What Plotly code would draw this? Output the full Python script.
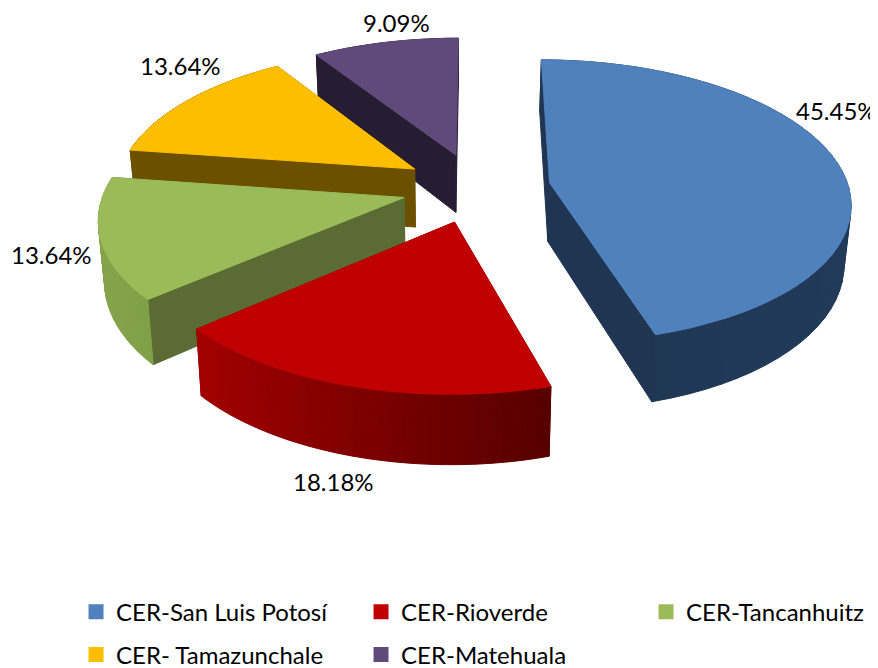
import math
import plotly.graph_objects as go

categories = ["CER-San Luis Potosí", "CER-Rioverde", "CER-Tancanhuitz", "CER- Tamazunchale", "CER-Matehuala"]
percent_values = [45.45, 18.18, 13.64, 13.64, 9.09]

top_colors = ["#4F81BD", "#C00000", "#9BBB59", "#FDBE00", "#604A7B"]
cut_colors = ["#1F3552", "#8A0000", "#5A6B33", "#6B5000", "#261D33"]
arc_from = ["#1F3552", "#A30000", "#86A44C", "#6B5000", "#261D33"]
arc_to = ["#223A5A", "#560000", "#80A048", "#6B5000", "#261D33"]
legend_rows = ["legend", "legend", "legend", "legend2", "legend2"]

CX, CY, R, RT, K, DEPTH, EXPLODE, ROT = 476.2, 187.6, 299, 140, 0.13, 59, 0.249, 0.05
TAPER, TAPER_X = 0.018, 450
LABEL_XY = [(836, 110), (333, 481), (51, 254), (180, 65), (396, 22)]
FONT = "Lato"
PAGE_MARGIN = 8  # the page body offsets the plot by this many pixels


def proj(X, Y, Z):
    s = 1 / (1 - K * Y)
    x = CX + R * X * s
    x = TAPER_X + (x - TAPER_X) * (1 - TAPER * Z)
    return x, CY + (RT * Y + DEPTH * Z) * s


def mix(a, b, t):
    ca = [int(a[i:i + 2], 16) for i in (1, 3, 5)]
    cb = [int(b[i:i + 2], 16) for i in (1, 3, 5)]
    return "rgb(%d,%d,%d)" % tuple(round(p + (q - p) * t) for p, q in zip(ca, cb))


fig = go.Figure()


def poly(pts, color):
    xs = [p[0] for p in pts] + [pts[0][0]]
    ys = [p[1] for p in pts] + [pts[0][1]]
    fig.add_trace(go.Scatter(x=xs, y=ys, mode="lines", fill="toself", fillcolor=color,
                             line=dict(color=color, width=1), showlegend=False, hoverinfo="skip"))


total = sum(percent_values)
spans = []
a = ROT
for v in percent_values:
    b = a + 360 * v / total
    spans.append((a, b))
    a = b

for i in [4, 3, 2, 0, 1]:
    a0, a1 = spans[i]
    m = math.radians((a0 + a1) / 2)
    ox, oy = EXPLODE * math.sin(m), -EXPLODE * math.cos(m)
    n = 48
    rim = []
    for j in range(n + 1):
        t = math.radians(a0 + (a1 - a0) * j / n)
        rim.append((ox + math.sin(t), oy - math.cos(t)))
    apex = (ox, oy)
    pieces = []
    for edge in (rim[0], rim[-1]):
        q = [proj(*apex, 0), proj(*edge, 0), proj(*edge, 1), proj(*apex, 1)]
        pieces.append(((apex[1] + edge[1]) / 2, q, cut_colors[i]))
    xl, xr = min(r[0] for r in rim), max(r[0] for r in rim)
    for j in range(n):
        p0, p1 = rim[j], rim[j + 1]
        q = [proj(*p0, 0), proj(*p1, 0), proj(*p1, 1), proj(*p0, 1)]
        xm = (p0[0] + p1[0]) / 2
        pieces.append(((p0[1] + p1[1]) / 2, q, mix(arc_from[i], arc_to[i], (xm - xl) / (xr - xl))))
    for _, q, c in sorted(pieces, key=lambda z: z[0]):
        poly(q, c)
    poly([proj(*apex, 0)] + [proj(*r, 0) for r in rim], top_colors[i])

for name, color, row in zip(categories, top_colors, legend_rows):
    fig.add_trace(go.Scatter(x=[None], y=[None], mode="markers", name=name, legend=row,
                             marker=dict(symbol="square", size=15, color=color)))

for v, (x, y) in zip(percent_values, LABEL_XY):
    fig.add_annotation(x=x, y=y, text=f"{v:.2f}%", showarrow=False,
                       font=dict(family=FONT, size=24, color="#000000"))

legend_style = dict(orientation="h", x=0.0782, xanchor="left", yanchor="middle",
                    entrywidth=240, entrywidthmode="pixels", itemwidth=30,
                    font=dict(family=FONT, size=24, color="#000000"),
                    bgcolor="rgba(0,0,0,0)", traceorder="normal")

fig.update_layout(
    width=878 - PAGE_MARGIN, height=668 - PAGE_MARGIN,
    margin=dict(l=0, r=0, t=0, b=0, autoexpand=False),
    paper_bgcolor="white", plot_bgcolor="white", showlegend=True,
    xaxis=dict(range=[PAGE_MARGIN, 878], visible=False, fixedrange=True),
    yaxis=dict(range=[668, PAGE_MARGIN], visible=False, fixedrange=True),
    legend=dict(y=0.0848, **legend_style),
    legend2=dict(y=0.0197, **legend_style),
)
fig.write_html("out.html")
